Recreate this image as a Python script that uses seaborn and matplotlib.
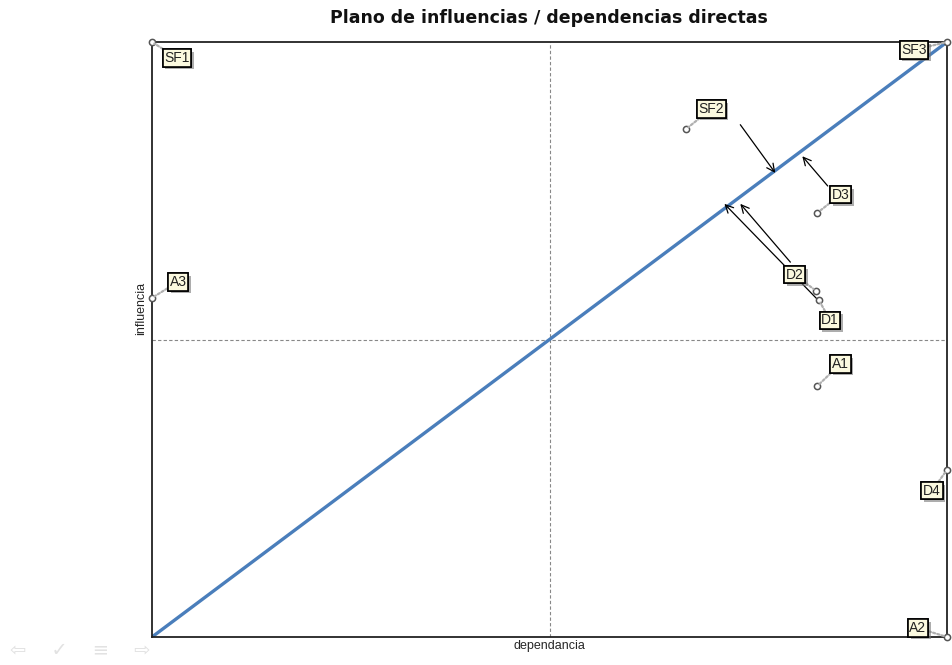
import matplotlib
matplotlib.use("Agg")
import matplotlib.pyplot as plt
import matplotlib.patheffects as pe
import pandas as pd
import seaborn as sns

# Variables: dependence (x) and influence (y), normalised 0..1
names = ['SF1', 'SF2', 'SF3', 'A3', 'D1', 'D2', 'D3', 'A1', 'D4', 'A2']
dependencia = [0.0, 0.672, 1.0, 0.0, 0.839, 0.835, 0.837, 0.837, 1.0, 1.0]
influencia = [1.0, 0.854, 1.0, 0.570, 0.566, 0.582, 0.713, 0.422, 0.281, 0.0]

# displacement arrows (start -> end)
arrow_start_x = [0.740, 0.850, 0.838, 0.803]
arrow_start_y = [0.861, 0.758, 0.566, 0.630]
arrow_end_x = [0.784, 0.818, 0.720, 0.740]
arrow_end_y = [0.780, 0.808, 0.728, 0.728]

# label offsets in pixels (style only)
label_offsets = {
    'SF1': (25, -16), 'SF2': (25, 20), 'SF3': (-33, -8), 'A3': (26, 16),
    'D1': (11, -20), 'D2': (-21, 16), 'D3': (23, 18), 'A1': (23, 22),
    'D4': (-15, -21), 'A2': (-29, 9),
}

df = pd.DataFrame({'name': names, 'dep': dependencia, 'inf': influencia})

sns.set_style('white')
plt.rcParams['font.family'] = ['Liberation Sans', 'DejaVu Sans']

fig = plt.figure(figsize=(9.52, 6.65), dpi=100)
ax = fig.add_axes([152 / 952, 1 - 637 / 665, 795 / 952, 595 / 665])

# quadrant lines
ax.axvline(0.5, color='#888888', lw=0.8, ls=(0, (3, 2)), zorder=1)
ax.axhline(0.5, color='#888888', lw=0.8, ls=(0, (3, 2)), zorder=1)

# diagonal
diag = pd.DataFrame({'x': [0, 1], 'y': [0, 1]})
sns.lineplot(data=diag, x='x', y='y', ax=ax, color='#4a7ebb', lw=2.4, zorder=2)

# displacement arrows
for sx, sy, ex, ey in zip(arrow_start_x, arrow_start_y, arrow_end_x, arrow_end_y):
    ax.annotate('', xy=(ex, ey), xytext=(sx, sy),
                arrowprops=dict(arrowstyle='->', color='black', lw=0.9,
                                mutation_scale=14, shrinkA=0, shrinkB=0),
                zorder=4)

# points
sns.scatterplot(data=df, x='dep', y='inf', ax=ax, s=20, marker='o',
                facecolor='white', edgecolor='#555555', linewidth=1.1,
                zorder=5, clip_on=False, legend=False)

# labels with leader lines
for _, row in df.iterrows():
    dx, dy = label_offsets[row['name']]
    t = ax.annotate(row['name'], xy=(row['dep'], row['inf']),
                    xytext=(dx, dy), textcoords='offset pixels',
                    ha='center', va='center', fontsize=10, color='#222222',
                    bbox=dict(boxstyle='square,pad=0.12', fc='#fbf9df',
                              ec='black', lw=1.2),
                    arrowprops=dict(arrowstyle='-', color='#b0b0b0', lw=1.6,
                                    ls=(0, (1, 1)), shrinkA=0, shrinkB=2),
                    annotation_clip=False, zorder=6)
    t.get_bbox_patch().set_path_effects(
        [pe.withSimplePatchShadow(offset=(2, -2), shadow_rgbFace='#777777', alpha=0.6), pe.Normal()])

ax.set_xlim(0, 1)
ax.set_ylim(0, 1)
ax.set_xticks([])
ax.set_yticks([])
for sp in ax.spines.values():
    sp.set_color('#222222')
    sp.set_linewidth(1.3)

ax.set_xlabel('dependancia', fontsize=9, labelpad=2)
ax.set_ylabel('influencia', fontsize=9, labelpad=2)
ax.yaxis.set_label_coords(-0.006, 0.553)
fig.text(549 / 952, 1 - 18 / 665, 'Plano de influencias / dependencias directas',
         ha='center', va='center', fontsize=12.5, fontweight='bold', color='#111111',
         family='DejaVu Sans')

# faint navigation glyphs
fig.text(10 / 952, 1 - 650 / 665, '\u21e6    \u2713    \u2261    \u21e8', fontsize=14,
         color='#e2e2e2', va='center', ha='left', family='DejaVu Sans')

fig.savefig('out.png', dpi=100)
